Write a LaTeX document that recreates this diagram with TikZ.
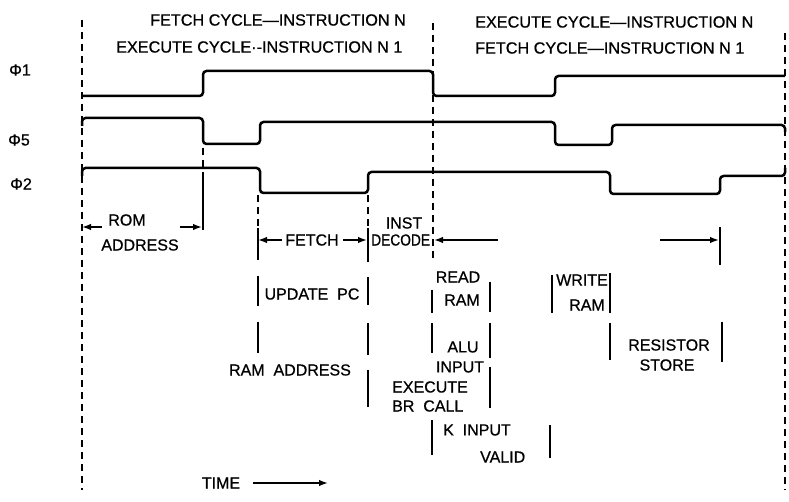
\documentclass[tikz,border=0pt]{standalone}
\usepackage{fontspec}
\setmainfont{Liberation Sans}[BoldFont=Liberation Sans,BoldFeatures={FakeBold=0.7}]
\usetikzlibrary{arrows.meta}
\begin{document}
\begin{tikzpicture}[x=1pt,y=-1pt,
  wave/.style={line width=2.5pt,rounded corners=3.5pt},
  guide/.style={line width=1.8pt,dash pattern=on 7pt off 5pt},
  bar/.style={line width=1.8pt},
  arr/.style={line width=1.6pt,-{Latex[length=9pt,width=6.5pt]}},
  txt/.style={inner sep=0pt,font=\fontsize{16}{18}\selectfont\bfseries},
  hdr/.style={inner sep=0pt,anchor=west,font=\fontsize{16.2}{18}\selectfont\bfseries}]
\useasboundingbox (0,0) rectangle (789,502);
% headers
\node[hdr] (h1) at (150,20) {FETCH CYCLE—INSTRUCTION N};
\node[hdr] (h2) at (116,47) {EXECUTE CYCLE·-INSTRUCTION N 1};
\node[hdr] (h3) at (475,22) {EXECUTE CYCLE—INSTRUCTION N};
\node[hdr] (h4) at (475,48) {FETCH CYCLE—INSTRUCTION N 1};
% signal names
\node[txt] (p1) at (20,70) {Φ1};
\node[txt] (p5) at (19,140) {Φ5};
\node[txt] (p2) at (21,184) {Φ2};
% guide lines
\draw[guide] (82,20) -- (82,490);
\draw[guide] (433,23) -- (433,262);
\draw[guide] (785,33) -- (785,490);
\draw[guide] (203,148) -- (203,177);
\draw[guide] (258,195) -- (258,228);
\draw[guide] (368,195) -- (368,228);
% waveforms
\draw[wave] (82,96) -- (203,96) -- (203,71) -- (433,71) -- (433,96) -- (555,96) -- (555,76) -- (785,76);
\draw[wave] (82,126) -- (82,118) -- (203,118) -- (203,144) -- (260,144) -- (260,122) -- (555,122) -- (555,145) -- (612,145) -- (612,125) -- (785,125) -- (785,132);
\draw[wave] (82,176) -- (82,168) -- (260,168) -- (260,193) -- (368,193) -- (368,172) -- (610,172) -- (610,194) -- (720,194) -- (720,176) -- (785,176) -- (785,168);
% solid bars
\draw[bar] (203,177) -- (203,230);
\draw[bar] (258,228) -- (258,260);
\draw[bar] (368,228) -- (368,262);
\draw[bar] (258,276) -- (258,306);
\draw[bar] (368,277) -- (368,305);
\draw[bar] (258,322) -- (258,353);
\draw[bar] (368,323) -- (368,355);
\draw[bar] (368,370) -- (368,407);
\draw[bar] (432,290) -- (432,313);
\draw[bar] (490,282) -- (490,312);
\draw[bar] (432,323) -- (432,353);
\draw[bar] (490,323) -- (490,358);
\draw[bar] (490,367) -- (490,408);
\draw[bar] (432,420) -- (432,455);
\draw[bar] (550,425) -- (550,458);
\draw[bar] (552,275) -- (552,313);
\draw[bar] (610,273) -- (610,313);
\draw[bar] (610,323) -- (610,360);
\draw[bar] (722,322) -- (722,362);
\draw[bar] (720,227) -- (720,265);
% arrow end points
\coordinate (ra1) at (102,227); \coordinate (ra1t) at (82,227);
\coordinate (ra2) at (180,227); \coordinate (ra2t) at (202,227);
\coordinate (fa1) at (282,240); \coordinate (fa1t) at (258,240);
\coordinate (fa2) at (343,240); \coordinate (fa2t) at (367,240);
\coordinate (da1) at (498,240); \coordinate (da1t) at (434,240);
\coordinate (da2) at (660,240); \coordinate (da2t) at (719,240);
\coordinate (ta) at (253,483); \coordinate (tat) at (328,483);
\draw[arr] (ra1) -- (ra1t);
\draw[arr] (ra2) -- (ra2t);
\draw[arr] (fa1) -- (fa1t);
\draw[arr] (fa2) -- (fa2t);
\draw[arr] (da1) -- (da1t);
\draw[arr] (da2) -- (da2t);
\draw[arr] (ta) -- (tat);
% labels
\node[txt] (rom) at (127,220) {ROM};
\node[txt] (romad) at (140,245) {ADDRESS};
\node[txt] (fetch) at (312,240) {FETCH};
\node[txt] (inst) at (404,223) {INST};
\node[txt,anchor=west] (decode) at (371,240) {\scalebox{0.86}[1]{DECODE}};
\node[txt] (upc) at (312,294) {UPDATE\ \ PC};
\node[txt] (ramad) at (290,370) {RAM\ \ ADDRESS};
\node[txt] (read) at (458,277) {READ};
\node[txt] (rram) at (462,300) {RAM};
\node[txt] (alu) at (463,347) {ALU};
\node[txt] (input) at (460,367) {INPUT};
\node[txt,anchor=west] (exec) at (392,387) {EXECUTE};
\node[txt,anchor=west] (brc) at (392,406) {BR\ \ CALL};
\node[txt,anchor=west] (kin) at (443,430) {K\ \ INPUT};
\node[txt,anchor=west] (valid) at (480,457) {VALID};
\node[txt] (write) at (582,280) {WRITE};
\node[txt] (wram) at (587,305) {RAM};
\node[txt] (resist) at (669,345) {RESISTOR};
\node[txt] (store) at (667,365) {STORE};
\node[txt] (time) at (221,483) {TIME};
\end{tikzpicture}
\end{document}
